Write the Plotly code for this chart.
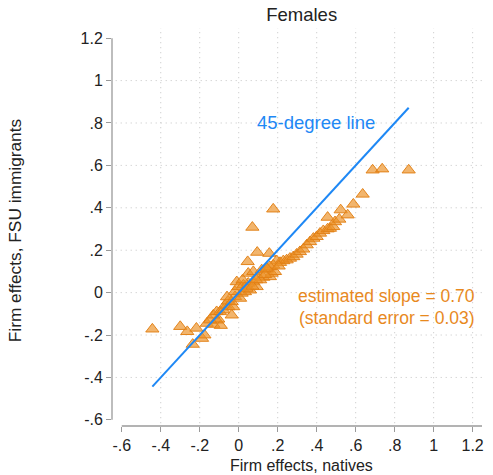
import plotly.graph_objects as go

# Firm effects: natives (x) vs FSU immigrants (y), females
natives = [-0.443, -0.300, -0.264, -0.217, -0.236, -0.188, -0.176, -0.164, -0.130, -0.113,
           -0.092, -0.105, -0.147, -0.130, -0.113, -0.096, -0.079, -0.070, -0.053, -0.028,
           -0.036, -0.055, -0.036, -0.019, 0.007, 0.015, 0.032, 0.058, -0.020, -0.010,
           -0.002, 0.024, 0.049, 0.075, 0.092, 0.040, 0.070, 0.046, 0.049, 0.075,
           0.100, 0.118, 0.126, 0.144, 0.160, 0.169, 0.186, 0.070, 0.095, 0.157,
           0.177, 0.110, 0.135, 0.195, 0.212, 0.229, 0.246, 0.263, 0.280, 0.297,
           0.314, 0.331, 0.349, 0.366, 0.383, 0.400, 0.417, 0.434, 0.456, 0.468,
           0.485, 0.456, 0.494, 0.516, 0.523, 0.559, 0.588, 0.636, 0.687, 0.736,
           0.872, 0.177, 0.160, 0.144, 0.205, 0.090, 0.020, -0.060]
immigrants = [-0.172, -0.160, -0.184, -0.168, -0.244, -0.216, -0.200, -0.145, -0.150, -0.130,
              -0.155, -0.125, -0.129, -0.106, -0.090, -0.090, -0.082, -0.059, -0.067, -0.067,
              -0.106, -0.040, -0.043, -0.019, -0.027, -0.003, 0.004, 0.012, 0.005, 0.051,
              0.028, 0.036, 0.044, 0.051, 0.028, 0.020, 0.030, 0.146, 0.091, 0.099,
              0.075, 0.107, 0.072, 0.110, 0.075, 0.091, 0.099, 0.308, 0.190, 0.185,
              0.394, 0.060, 0.085, 0.150, 0.142, 0.150, 0.154, 0.162, 0.169, 0.181,
              0.193, 0.205, 0.225, 0.240, 0.256, 0.264, 0.280, 0.292, 0.300, 0.303,
              0.311, 0.355, 0.334, 0.346, 0.390, 0.366, 0.417, 0.464, 0.578, 0.583,
              0.578, 0.130, 0.122, 0.115, 0.125, 0.060, 0.060, -0.020]

x_ticks = [-0.6, -0.4, -0.2, 0, 0.2, 0.4, 0.6, 0.8, 1.0, 1.2]
x_tick_labels = ["-.6", "-.4", "-.2", "0", ".2", ".4", ".6", ".8", "1", "1.2"]
y_ticks = [-0.6, -0.4, -0.2, 0, 0.2, 0.4, 0.6, 0.8, 1.0, 1.2]
y_tick_labels = ["-.6", "-.4", "-.2", "0", ".2", ".4", ".6", ".8", "1", "1.2"]
x_grid = [-0.4, -0.2, 0, 0.2, 0.4, 0.6, 0.8, 1.0, 1.2]
y_grid = [-0.4, -0.2, 0, 0.2, 0.4, 0.6, 0.8, 1.0]

BLUE = "rgb(30,136,245)"
ORANGE = "#E8891E"
FONT = "Liberation Sans, Arial, Helvetica, sans-serif"

lo, hi = min(natives), max(natives)

fig = go.Figure()
fig.add_trace(go.Scatter(
    x=natives, y=immigrants, mode="markers",
    marker=dict(symbol="triangle-up", size=11.5, color="rgba(236,146,40,0.68)",
                line=dict(color="rgba(226,128,20,0.95)", width=1)),
    showlegend=False, hoverinfo="skip"))
fig.add_trace(go.Scatter(
    x=[lo, hi], y=[lo, hi], mode="lines",
    line=dict(color=BLUE, width=2), showlegend=False, hoverinfo="skip"))

GRID = dict(color="#c4c4c4", width=1, dash="1px,4px")
shapes = []
for v in x_grid:
    shapes.append(dict(type="line", xref="x", yref="paper", x0=v, x1=v, y0=0.007, y1=1,
                       line=GRID, layer="below"))
for v in y_grid:
    shapes.append(dict(type="line", xref="paper", yref="y", x0=0.01, x1=1, y0=v, y1=v,
                       line=GRID, layer="below"))
# axis lines (Stata style)
shapes.append(dict(type="line", xref="paper", yref="y", x0=0, x1=0, y0=-0.6, y1=1.2,
                   line=dict(color="#9a9a9a", width=1.3)))
shapes.append(dict(type="line", xref="x", yref="paper", x0=-0.6, x1=1.248, y0=0, y1=0,
                   line=dict(color="#9a9a9a", width=1.3)))

annotations = [
    dict(text="45-degree line", x=0.397, y=0.80, xref="x", yref="y", showarrow=False,
         font=dict(family=FONT, size=18.5, color=BLUE), xanchor="center", yanchor="middle"),
    dict(text="estimated slope = 0.70", x=0.76, y=-0.016, xref="x", yref="y", showarrow=False,
         font=dict(family=FONT, size=17.5, color=ORANGE), xanchor="center", yanchor="middle"),
    dict(text="(standard error = 0.03)", x=0.76, y=-0.12, xref="x", yref="y", showarrow=False,
         font=dict(family=FONT, size=17.5, color=ORANGE), xanchor="center", yanchor="middle"),
    dict(text="Firm effects, natives", x=0.511, y=-0.1005, xref="paper", yref="paper",
         showarrow=False, font=dict(family=FONT, size=16, color="#222"),
         xanchor="center", yanchor="middle"),
    dict(text="Firm effects, FSU immigrants", x=-0.262, y=0.492, xref="paper", yref="paper",
         showarrow=False, textangle=-90, font=dict(family=FONT, size=17.3, color="#222"),
         xanchor="center", yanchor="middle"),
]

fig.update_layout(
    width=493, height=475,
    margin=dict(l=112, r=11, t=28, b=49, autoexpand=False),
    paper_bgcolor="white", plot_bgcolor="white",
    title=dict(text="Females", x=301.7 / 493, y=1 - 15 / 475, xanchor="center", yanchor="middle",
               font=dict(family=FONT, size=18.5, color="#222")),
    xaxis=dict(range=[-0.65, 1.248], tickvals=x_ticks, ticktext=x_tick_labels,
               showgrid=False, zeroline=False, showline=False, ticks="outside", ticklen=5,
               tickcolor="#9a9a9a", tickwidth=1.2,
               tickfont=dict(family=FONT, size=16, color="#222")),
    yaxis=dict(range=[-0.629, 1.248], tickvals=y_ticks, ticktext=y_tick_labels,
               showgrid=False, zeroline=False, showline=False, ticks="outside", ticklen=5,
               tickcolor="#9a9a9a", tickwidth=1.2,
               tickfont=dict(family=FONT, size=16, color="#222")),
    shapes=shapes, annotations=annotations,
)

fig.write_html("out.html", config={"displayModeBar": False},
               post_script="document.body.style.margin='0';document.body.style.padding='0';")
